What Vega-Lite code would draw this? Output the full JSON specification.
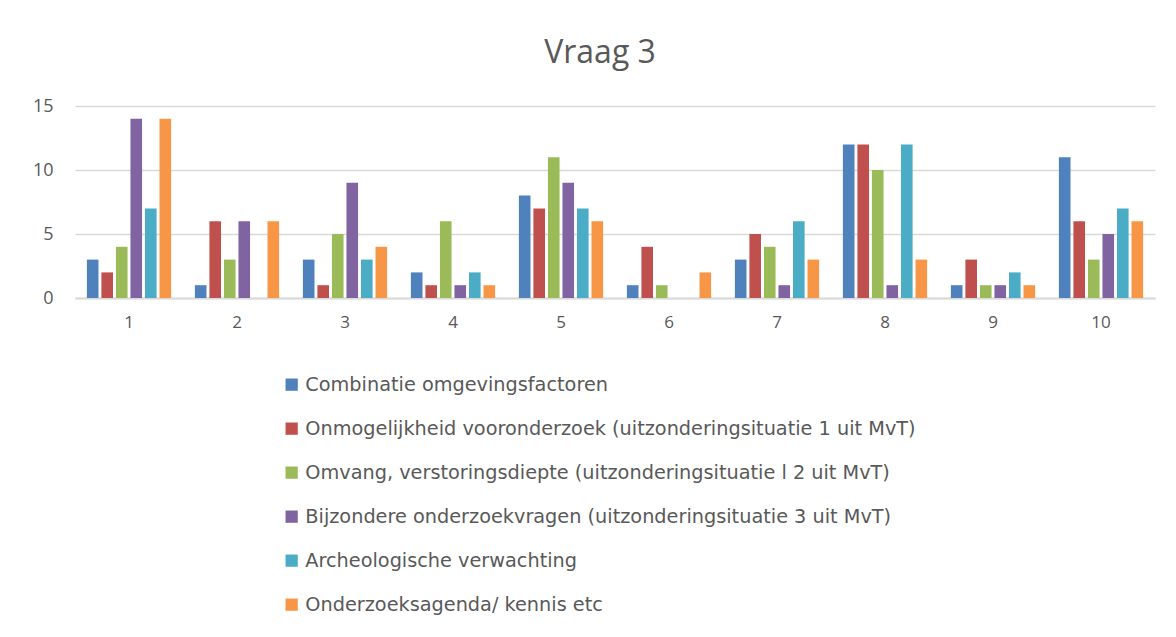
{
  "$schema": "https://vega.github.io/schema/vega-lite/v6.json",
  "autosize": {"type": "none"},
  "width": 1080,
  "height": 192,
  "padding": {"left": 75, "top": 106, "right": 21, "bottom": 339},
  "background": "white",
  "title": {
    "text": "Vraag 3",
    "fontSize": 32,
    "font": "Open Sans",
    "fontWeight": "normal",
    "color": "#595959",
    "dx": -15,
    "offset": 27
  },
  "data": {
    "values": [
      {"vraag": "1", "reden": "Combinatie omgevingsfactoren", "aantal": 3},
      {"vraag": "1", "reden": "Onmogelijkheid vooronderzoek (uitzonderingsituatie 1 uit MvT)", "aantal": 2},
      {"vraag": "1", "reden": "Omvang, verstoringsdiepte (uitzonderingsituatie l 2 uit MvT)", "aantal": 4},
      {"vraag": "1", "reden": "Bijzondere onderzoekvragen (uitzonderingsituatie  3 uit MvT)", "aantal": 14},
      {"vraag": "1", "reden": "Archeologische verwachting", "aantal": 7},
      {"vraag": "1", "reden": "Onderzoeksagenda/ kennis etc", "aantal": 14},
      {"vraag": "2", "reden": "Combinatie omgevingsfactoren", "aantal": 1},
      {"vraag": "2", "reden": "Onmogelijkheid vooronderzoek (uitzonderingsituatie 1 uit MvT)", "aantal": 6},
      {"vraag": "2", "reden": "Omvang, verstoringsdiepte (uitzonderingsituatie l 2 uit MvT)", "aantal": 3},
      {"vraag": "2", "reden": "Bijzondere onderzoekvragen (uitzonderingsituatie  3 uit MvT)", "aantal": 6},
      {"vraag": "2", "reden": "Archeologische verwachting", "aantal": 0},
      {"vraag": "2", "reden": "Onderzoeksagenda/ kennis etc", "aantal": 6},
      {"vraag": "3", "reden": "Combinatie omgevingsfactoren", "aantal": 3},
      {"vraag": "3", "reden": "Onmogelijkheid vooronderzoek (uitzonderingsituatie 1 uit MvT)", "aantal": 1},
      {"vraag": "3", "reden": "Omvang, verstoringsdiepte (uitzonderingsituatie l 2 uit MvT)", "aantal": 5},
      {"vraag": "3", "reden": "Bijzondere onderzoekvragen (uitzonderingsituatie  3 uit MvT)", "aantal": 9},
      {"vraag": "3", "reden": "Archeologische verwachting", "aantal": 3},
      {"vraag": "3", "reden": "Onderzoeksagenda/ kennis etc", "aantal": 4},
      {"vraag": "4", "reden": "Combinatie omgevingsfactoren", "aantal": 2},
      {"vraag": "4", "reden": "Onmogelijkheid vooronderzoek (uitzonderingsituatie 1 uit MvT)", "aantal": 1},
      {"vraag": "4", "reden": "Omvang, verstoringsdiepte (uitzonderingsituatie l 2 uit MvT)", "aantal": 6},
      {"vraag": "4", "reden": "Bijzondere onderzoekvragen (uitzonderingsituatie  3 uit MvT)", "aantal": 1},
      {"vraag": "4", "reden": "Archeologische verwachting", "aantal": 2},
      {"vraag": "4", "reden": "Onderzoeksagenda/ kennis etc", "aantal": 1},
      {"vraag": "5", "reden": "Combinatie omgevingsfactoren", "aantal": 8},
      {"vraag": "5", "reden": "Onmogelijkheid vooronderzoek (uitzonderingsituatie 1 uit MvT)", "aantal": 7},
      {"vraag": "5", "reden": "Omvang, verstoringsdiepte (uitzonderingsituatie l 2 uit MvT)", "aantal": 11},
      {"vraag": "5", "reden": "Bijzondere onderzoekvragen (uitzonderingsituatie  3 uit MvT)", "aantal": 9},
      {"vraag": "5", "reden": "Archeologische verwachting", "aantal": 7},
      {"vraag": "5", "reden": "Onderzoeksagenda/ kennis etc", "aantal": 6},
      {"vraag": "6", "reden": "Combinatie omgevingsfactoren", "aantal": 1},
      {"vraag": "6", "reden": "Onmogelijkheid vooronderzoek (uitzonderingsituatie 1 uit MvT)", "aantal": 4},
      {"vraag": "6", "reden": "Omvang, verstoringsdiepte (uitzonderingsituatie l 2 uit MvT)", "aantal": 1},
      {"vraag": "6", "reden": "Bijzondere onderzoekvragen (uitzonderingsituatie  3 uit MvT)", "aantal": 0},
      {"vraag": "6", "reden": "Archeologische verwachting", "aantal": 0},
      {"vraag": "6", "reden": "Onderzoeksagenda/ kennis etc", "aantal": 2},
      {"vraag": "7", "reden": "Combinatie omgevingsfactoren", "aantal": 3},
      {"vraag": "7", "reden": "Onmogelijkheid vooronderzoek (uitzonderingsituatie 1 uit MvT)", "aantal": 5},
      {"vraag": "7", "reden": "Omvang, verstoringsdiepte (uitzonderingsituatie l 2 uit MvT)", "aantal": 4},
      {"vraag": "7", "reden": "Bijzondere onderzoekvragen (uitzonderingsituatie  3 uit MvT)", "aantal": 1},
      {"vraag": "7", "reden": "Archeologische verwachting", "aantal": 6},
      {"vraag": "7", "reden": "Onderzoeksagenda/ kennis etc", "aantal": 3},
      {"vraag": "8", "reden": "Combinatie omgevingsfactoren", "aantal": 12},
      {"vraag": "8", "reden": "Onmogelijkheid vooronderzoek (uitzonderingsituatie 1 uit MvT)", "aantal": 12},
      {"vraag": "8", "reden": "Omvang, verstoringsdiepte (uitzonderingsituatie l 2 uit MvT)", "aantal": 10},
      {"vraag": "8", "reden": "Bijzondere onderzoekvragen (uitzonderingsituatie  3 uit MvT)", "aantal": 1},
      {"vraag": "8", "reden": "Archeologische verwachting", "aantal": 12},
      {"vraag": "8", "reden": "Onderzoeksagenda/ kennis etc", "aantal": 3},
      {"vraag": "9", "reden": "Combinatie omgevingsfactoren", "aantal": 1},
      {"vraag": "9", "reden": "Onmogelijkheid vooronderzoek (uitzonderingsituatie 1 uit MvT)", "aantal": 3},
      {"vraag": "9", "reden": "Omvang, verstoringsdiepte (uitzonderingsituatie l 2 uit MvT)", "aantal": 1},
      {"vraag": "9", "reden": "Bijzondere onderzoekvragen (uitzonderingsituatie  3 uit MvT)", "aantal": 1},
      {"vraag": "9", "reden": "Archeologische verwachting", "aantal": 2},
      {"vraag": "9", "reden": "Onderzoeksagenda/ kennis etc", "aantal": 1},
      {"vraag": "10", "reden": "Combinatie omgevingsfactoren", "aantal": 11},
      {"vraag": "10", "reden": "Onmogelijkheid vooronderzoek (uitzonderingsituatie 1 uit MvT)", "aantal": 6},
      {"vraag": "10", "reden": "Omvang, verstoringsdiepte (uitzonderingsituatie l 2 uit MvT)", "aantal": 3},
      {"vraag": "10", "reden": "Bijzondere onderzoekvragen (uitzonderingsituatie  3 uit MvT)", "aantal": 5},
      {"vraag": "10", "reden": "Archeologische verwachting", "aantal": 7},
      {"vraag": "10", "reden": "Onderzoeksagenda/ kennis etc", "aantal": 6}
    ]
  },
  "mark": {"type": "bar"},
  "encoding": {
    "x": {
      "field": "vraag",
      "type": "nominal",
      "sort": ["1","2","3","4","5","6","7","8","9","10"],
      "scale": {"paddingInner": 0.22, "paddingOuter": 0.11},
      "axis": {
        "title": null,
        "labelAngle": 0,
        "labelFontSize": 17,
        "labelFont": "Open Sans",
        "labelColor": "#595959",
        "labelPadding": 16,
        "ticks": false,
        "domainColor": "#D9D9D9",
        "domainWidth": 2,
        "grid": false
      }
    },
    "xOffset": {
      "field": "reden",
      "type": "nominal",
      "sort": null,
      "scale": {"paddingInner": 0.2, "paddingOuter": 0}
    },
    "y": {
      "field": "aantal",
      "type": "quantitative",
      "scale": {"domain": [0, 15], "nice": false},
      "axis": {
        "title": null,
        "values": [0, 5, 10, 15],
        "labelFontSize": 18,
        "labelFont": "Open Sans",
        "labelColor": "#595959",
        "labelPadding": 22,
        "ticks": false,
        "domain": false,
        "gridColor": "#D9D9D9",
        "gridWidth": 1.5
      }
    },
    "color": {
      "field": "reden",
      "type": "nominal",
      "sort": null,
      "scale": {
        "domain": [
          "Combinatie omgevingsfactoren",
          "Onmogelijkheid vooronderzoek (uitzonderingsituatie 1 uit MvT)",
          "Omvang, verstoringsdiepte (uitzonderingsituatie l 2 uit MvT)",
          "Bijzondere onderzoekvragen (uitzonderingsituatie  3 uit MvT)",
          "Archeologische verwachting",
          "Onderzoeksagenda/ kennis etc"
        ],
        "range": ["#4F81BD", "#C0504D", "#9BBB59", "#8064A2", "#4BACC6", "#F79646"]
      },
      "legend": {
        "title": null,
        "orient": "none",
        "legendX": 207,
        "legendY": 269,
        "direction": "vertical",
        "symbolType": "square",
        "symbolSize": 150,
        "symbolStrokeWidth": 0,
        "labelFontSize": 19.3,
        "labelFont": "DejaVu Sans",
        "labelColor": "#595959",
        "labelLimit": 1000,
        "labelOffset": 4,
        "rowPadding": 24
      }
    }
  },
  "config": {
    "view": {"stroke": null}
  }
}
